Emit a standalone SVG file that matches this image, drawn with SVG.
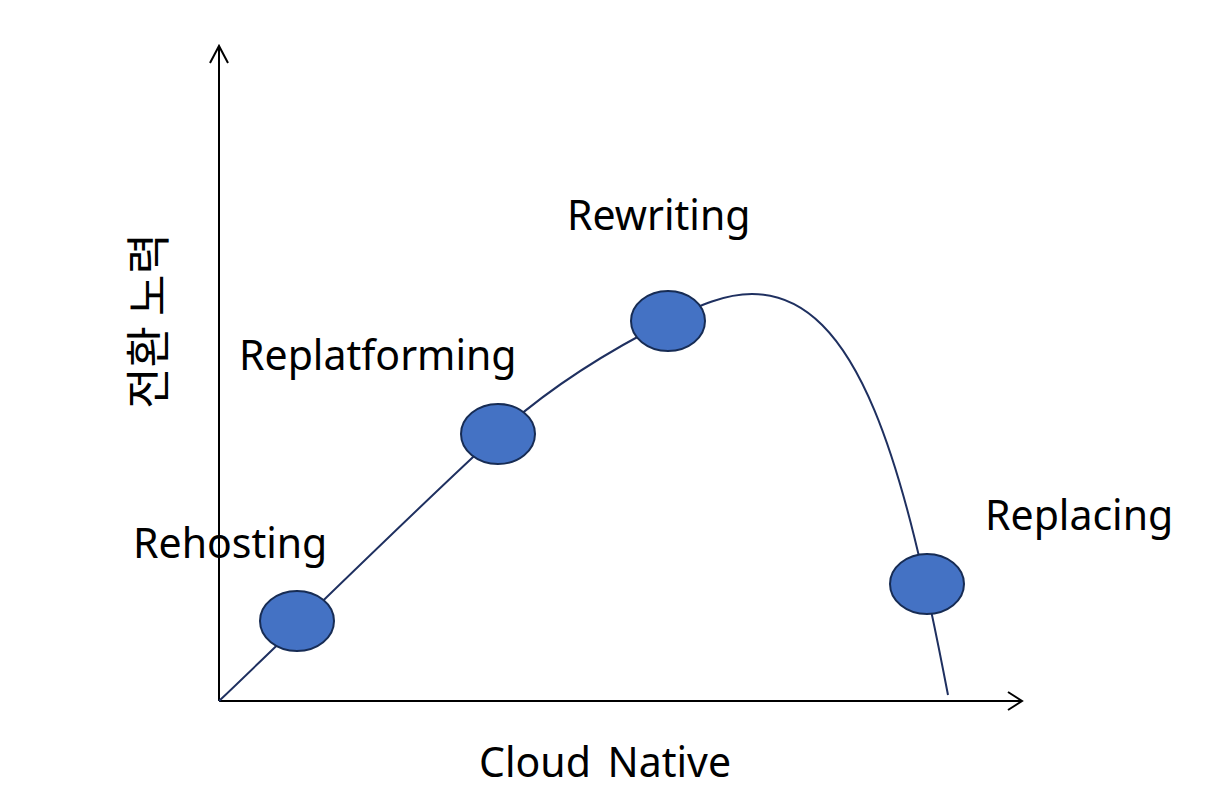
<svg xmlns="http://www.w3.org/2000/svg" width="1211" height="793" viewBox="0 0 1211 793">
<style>
.axis{stroke:#000;stroke-width:2;fill:none}
.curve{stroke:#1f3060;stroke-width:2;fill:none}
.dot{fill:#4472c4;stroke:#172c54;stroke-width:2}
.lbl{font-family:"Noto Sans","Open Sans","Liberation Sans",sans-serif;font-size:41px;fill:#000}
.ko{font-family:"Noto Sans CJK KR","Noto Sans",sans-serif;font-size:45px;fill:#000}
</style>
<rect width="1211" height="793" fill="#fff"/>
<g id="axes">
<path class="axis" d="M219,701 V46 M210,63 L219,46 L228,63"/>
<path class="axis" d="M219,701 H1022 M1008,692 L1022,701 L1008,710"/>
</g>
<g id="connectors">
<path class="curve" d="M219,701 C300,624 420,505 498,434 C553,384 620,345 668,321 C700,305 725,294 752,294 C860,294 905,470 948,695"/>
</g>
<g id="rehosting"><ellipse class="dot" cx="297" cy="621" rx="37" ry="30"/><text class="lbl" x="133" y="558">Rehosting</text></g>
<g id="replatforming"><ellipse class="dot" cx="498" cy="434" rx="37" ry="30"/><text class="lbl" x="239" y="370">Replatforming</text></g>
<g id="rewriting"><ellipse class="dot" cx="668" cy="321" rx="37" ry="30"/><text class="lbl" x="567" y="230">Rewriting</text></g>
<g id="replacing"><ellipse class="dot" cx="927" cy="584" rx="37" ry="30"/><text class="lbl" x="985" y="530">Replacing</text></g>
<g id="xlabel"><text class="lbl" x="479" y="777" word-spacing="6">Cloud Native</text></g>
<g id="ylabel"><text class="ko" transform="translate(165,321) rotate(-90)" text-anchor="middle">전환 노력</text></g>
</svg>
